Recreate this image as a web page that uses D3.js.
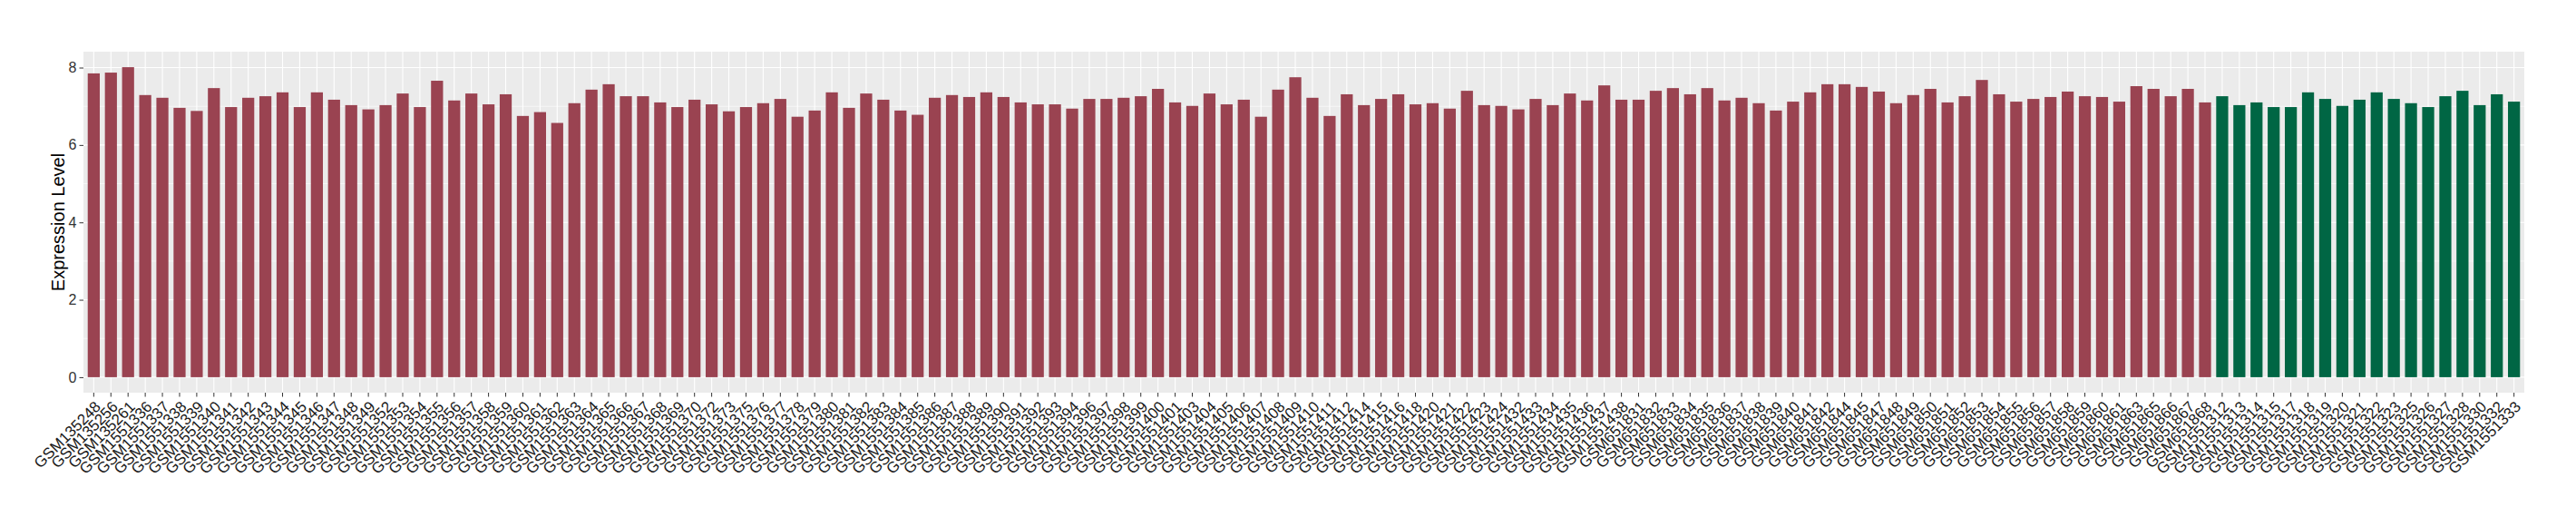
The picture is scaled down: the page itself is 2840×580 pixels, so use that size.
<!DOCTYPE html>
<html>
<head>
<meta charset="utf-8">
<script src="https://cdn.jsdelivr.net/npm/d3@7"></script>
<style>
	body {margin: 0; background: #fff;}
	svg {font-family: "Liberation Sans", Arial, sans-serif;}
</style>
</head>
<body>
<svg id="chart" width="2840" height="580"></svg>
<script>
/*** Data ***/
var samplesA = [
	"GSM135248","GSM135256","GSM135261",
	"GSM1551336","GSM1551337","GSM1551338","GSM1551339","GSM1551340","GSM1551341","GSM1551342","GSM1551343","GSM1551344","GSM1551345","GSM1551346","GSM1551347","GSM1551348","GSM1551349",
	"GSM1551352","GSM1551353","GSM1551354","GSM1551355","GSM1551356","GSM1551357","GSM1551358","GSM1551359","GSM1551360","GSM1551361","GSM1551362","GSM1551363","GSM1551364","GSM1551365","GSM1551366","GSM1551367","GSM1551368","GSM1551369","GSM1551370",
	"GSM1551372","GSM1551373",
	"GSM1551375","GSM1551376","GSM1551377","GSM1551378","GSM1551379","GSM1551380","GSM1551381","GSM1551382","GSM1551383","GSM1551384","GSM1551385","GSM1551386","GSM1551387","GSM1551388","GSM1551389","GSM1551390","GSM1551391","GSM1551392","GSM1551393","GSM1551394",
	"GSM1551396","GSM1551397","GSM1551398","GSM1551399","GSM1551400","GSM1551401",
	"GSM1551403","GSM1551404","GSM1551405","GSM1551406","GSM1551407","GSM1551408","GSM1551409","GSM1551410","GSM1551411","GSM1551412",
	"GSM1551414","GSM1551415","GSM1551416","GSM1551418","GSM1551420","GSM1551421","GSM1551422","GSM1551423","GSM1551424",
	"GSM1551432","GSM1551433","GSM1551434","GSM1551435","GSM1551436","GSM1551437","GSM1551438",
	"GSM651831","GSM651832","GSM651833","GSM651834","GSM651835","GSM651836","GSM651837","GSM651838","GSM651839","GSM651840","GSM651841","GSM651842",
	"GSM651844","GSM651845",
	"GSM651847","GSM651848","GSM651849","GSM651850","GSM651851","GSM651852","GSM651853","GSM651854","GSM651855","GSM651856","GSM651857","GSM651858","GSM651859","GSM651860","GSM651861",
	"GSM651863","GSM651865","GSM651866","GSM651867","GSM651868"
]
var levelsA = [
	7.85,7.87,8.01,
	7.29,7.22,6.96,6.88,7.47,6.98,7.22,7.26,7.36,6.98,7.36,7.17,7.03,6.92,
	7.03,7.33,6.98,7.66,7.15,7.33,7.05,7.31,6.75,6.85,6.57,7.08,7.43,7.57,7.26,7.26,7.10,6.98,7.17,
	7.05,6.87,
	6.98,7.08,7.19,6.73,6.89,7.36,6.96,7.33,7.17,6.89,6.78,7.22,7.29,7.24,7.36,7.24,7.10,7.05,7.05,6.94,
	7.19,7.19,7.22,7.26,7.45,7.10,
	7.01,7.33,7.05,7.17,6.73,7.43,7.75,7.22,6.75,7.31,
	7.03,7.19,7.31,7.05,7.08,6.94,7.40,7.03,7.01,
	6.92,7.19,7.03,7.33,7.15,7.54,7.17,
	7.17,7.40,7.47,7.31,7.47,7.15,7.22,7.08,6.89,7.12,7.36,7.57,
	7.57,7.50,
	7.38,7.08,7.29,7.45,7.10,7.26,7.68,7.31,7.12,7.19,7.24,7.38,7.26,7.24,7.12,
	7.52,7.45,7.26,7.45,7.10
]
var samplesB = [
	"GSM1551312","GSM1551313","GSM1551314","GSM1551315","GSM1551317","GSM1551318","GSM1551319","GSM1551320","GSM1551321",
	"GSM1551322","GSM1551323","GSM1551325","GSM1551326","GSM1551327","GSM1551328","GSM1551330","GSM1551332","GSM1551333"
]
var levelsB = [7.26,7.03,7.10,6.98,6.98,7.36,7.19,7.01,7.17,7.36,7.19,7.08,6.98,7.26,7.40,7.03,7.31,7.12]
var yTicks = [0, 2, 4, 6, 8]
var yMinor = [1, 3, 5, 7]
var yTitle = "Expression Level"

/*** Build rows ***/
var rows = samplesA.map((s, i) => {return {name: s, value: levelsA[i], group: "A"}})
	.concat(samplesB.map((s, i) => {return {name: s, value: levelsB[i], group: "B"}}))
var fills = {A: "#9A4351", B: "#006644"}

/*** Draw ***/
var m = d3.select("#chart")
var p = {l: 92, r: 2783, t: 57, b: 433}

var ymax = d3.max(rows, (d) => d.value)
var y = d3.scaleLinear()
	.domain([-ymax * 0.05, ymax * 1.05])
	.range([p.b, p.t])
var x = d3.scaleBand()
	.domain(rows.map((d) => d.name))
	.range([p.l, p.r])
	.paddingInner(0.3)
	.paddingOuter(0.25)
var cx = (n) => x(n) + x.bandwidth() / 2

// panel
m.append("rect")
 .attr("x", p.l).attr("y", p.t)
 .attr("width", p.r - p.l).attr("height", p.b - p.t)
 .attr("fill", "#EBEBEB")

var g = m.append("g").attr("class", "grid")
g.selectAll("line.minor")
 .data(yMinor).enter().append("line")
 .attr("class", "minor")
 .attr("x1", p.l).attr("x2", p.r)
 .attr("y1", (d) => y(d)).attr("y2", (d) => y(d))
 .attr("stroke", "#fff").attr("stroke-width", 0.6)
g.selectAll("line.hmajor")
 .data(yTicks).enter().append("line")
 .attr("class", "hmajor")
 .attr("x1", p.l).attr("x2", p.r)
 .attr("y1", (d) => y(d)).attr("y2", (d) => y(d))
 .attr("stroke", "#fff").attr("stroke-width", 1.1)
g.selectAll("line.vmajor")
 .data(rows).enter().append("line")
 .attr("class", "vmajor")
 .attr("x1", (d) => cx(d.name)).attr("x2", (d) => cx(d.name))
 .attr("y1", p.t).attr("y2", p.b)
 .attr("stroke", "#fff").attr("stroke-width", 1.1)

// bars
m.append("g")
 .selectAll("rect")
 .data(rows).enter().append("rect")
 .attr("x", (d) => x(d.name))
 .attr("width", x.bandwidth())
 .attr("y", (d) => y(d.value))
 .attr("height", (d) => y(0) - y(d.value))
 .attr("fill", (d) => fills[d.group])

// y axis
var ya = m.append("g")
	.attr("transform", "translate(" + p.l + ",0)")
	.call(d3.axisLeft(y).tickValues(yTicks).tickSize(4.5).tickPadding(3))
ya.select(".domain").remove()
ya.selectAll(".tick line").attr("stroke", "#333")
ya.selectAll(".tick text")
  .attr("fill", "#333")
  .style("font-size", "16px")
  .style("font-family", "Liberation Sans, Arial, sans-serif")

// x axis
var xa = m.append("g")
	.attr("transform", "translate(0," + p.b + ")")
	.call(d3.axisBottom(x).tickSize(4.5).tickPadding(0))
xa.select(".domain").remove()
xa.selectAll(".tick line").attr("stroke", "#333")
xa.selectAll(".tick text")
  .attr("fill", "#1a1a1a")
  .attr("y", 0)
  .attr("dy", "0.72em")
  .attr("text-anchor", "end")
  .attr("transform", "translate(0,8) rotate(-45)")
  .style("font-size", "17px")
  .style("font-family", "Liberation Sans, Arial, sans-serif")

// title
m.append("text")
 .attr("transform", "translate(71," + ((p.t + p.b) / 2) + ") rotate(-90)")
 .attr("text-anchor", "middle")
 .style("font-size", "20px")
 .attr("fill", "#000")
 .text(yTitle)
</script>
</body>
</html>
